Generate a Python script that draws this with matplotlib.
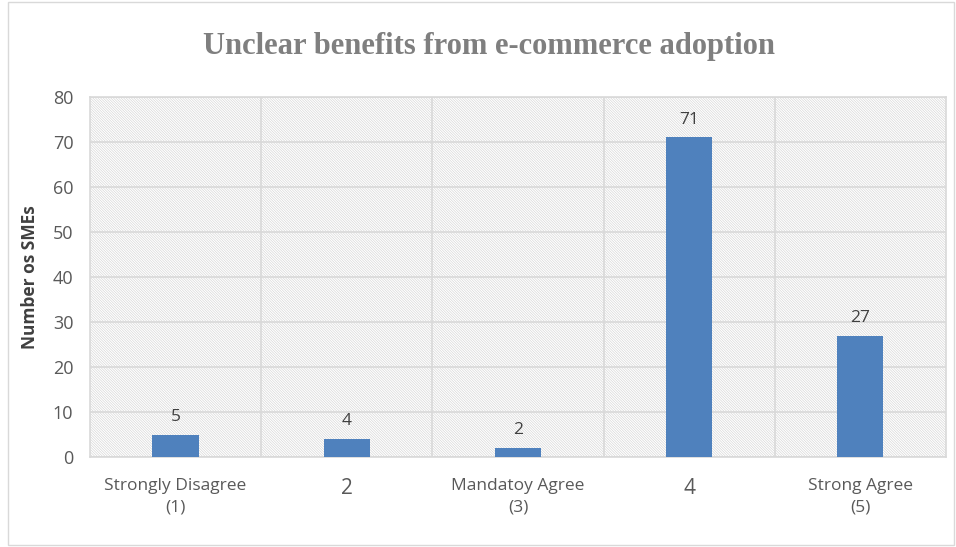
import matplotlib.pyplot as plt
from matplotlib.patches import Rectangle

# Survey responses
categories = ['Strongly Disagree\n(1)', '2', 'Mandatoy Agree\n(3)', '4', 'Strong Agree\n(5)']
counts = [5, 4, 2, 71, 27]
y_ticks = [0, 10, 20, 30, 40, 50, 60, 70, 80]

plt.rcParams['hatch.color'] = '#d4d4d4'
plt.rcParams['hatch.linewidth'] = 0.45

fig = plt.figure(figsize=(9.56, 5.47), dpi=100)
ax = fig.add_axes([0.0941, 0.1645, 0.8954, 0.6582])

# outer chart frame
fig.patches.append(Rectangle((0.008, 0.004), 0.99, 0.992, transform=fig.transFigure,
                             fill=False, edgecolor='#d9d9d9', linewidth=1.0))

# hatched plot background
ax.set_facecolor('white')
ax.add_patch(Rectangle((0, 0), 1, 1, transform=ax.transAxes, facecolor='white',
                       edgecolor='#d4d4d4', linewidth=0, hatch='\\' * 13, zorder=0.5))

x = list(range(len(categories)))
bars = ax.bar(x, counts, width=0.27, color='#4f81bd', zorder=3)

for xi, v in zip(x, counts):
    ax.text(xi, v + 2.2, str(v), ha='center', va='bottom', fontsize=12.5,
            color='#404040', family='Open Sans')

ax.set_xlim(-0.5, len(categories) - 0.5)
ax.set_ylim(0, 80)
ax.set_yticks(y_ticks)
ax.set_xticks(x)
ax.set_xticklabels(categories, family='Open Sans', fontsize=12.5, color='#595959',
                   linespacing=1.5)
for lbl in ax.get_xticklabels():
    if lbl.get_text() in ('2', '4'):
        lbl.set_fontsize(15)
ax.set_yticklabels([str(t) for t in y_ticks], family='Open Sans', fontsize=13, color='#595959')
ax.tick_params(axis='x', length=0, pad=15)
ax.tick_params(axis='y', length=0, pad=12)

# gridlines: horizontal at ticks, vertical at category boundaries
ax.yaxis.grid(True, color='#d9d9d9', linewidth=1.2, zorder=1)
for b in [i + 0.5 for i in x[:-1]]:
    ax.axvline(b, color='#d9d9d9', linewidth=1.2, zorder=1)
for s in ax.spines.values():
    s.set_color('#d9d9d9')
    s.set_linewidth(1.2)

ax.set_ylabel('Number os SMEs', fontsize=12.5, fontweight='bold', color='#404040',
              family='Open Sans', labelpad=10)

fig.suptitle('Unclear benefits from e-commerce adoption', x=0.512, y=0.942,
             fontsize=22, fontweight='bold', color='#7f7f7f', family='Liberation Serif')

fig.savefig('out.png', dpi=100)
